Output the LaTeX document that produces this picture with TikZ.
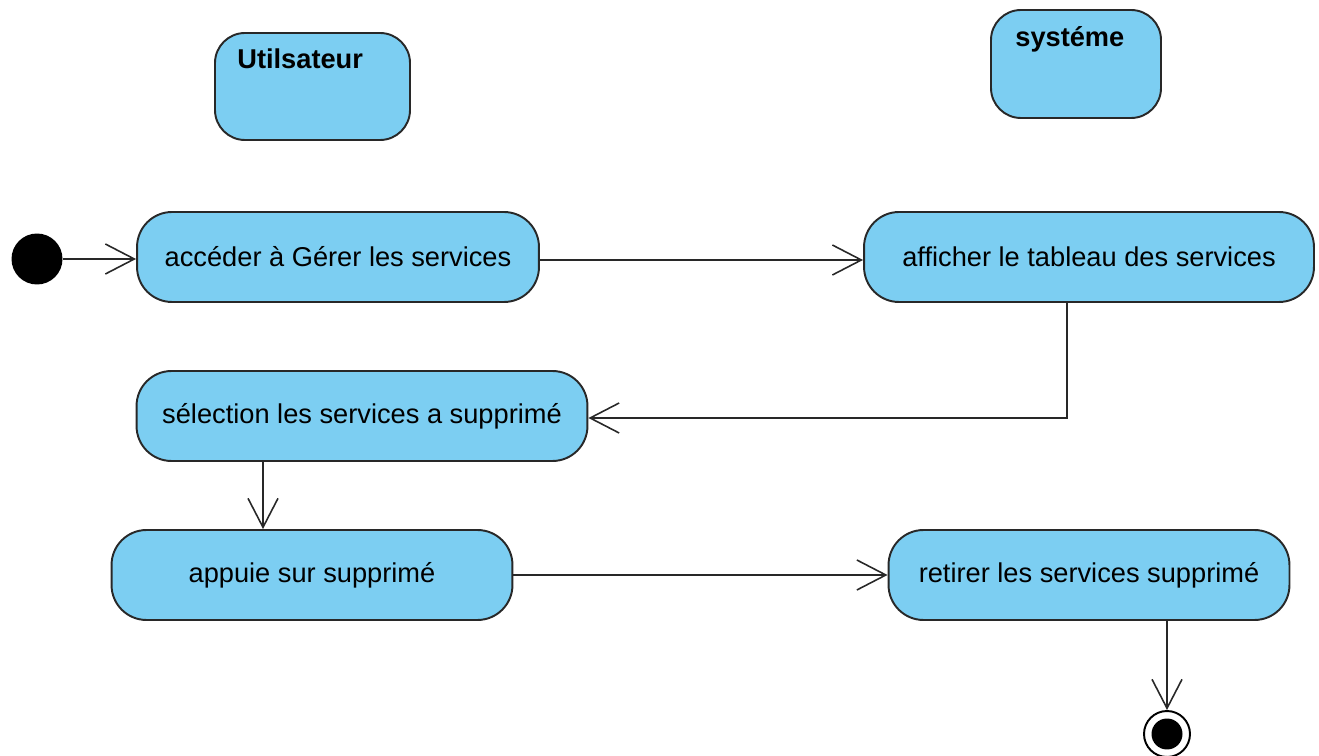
\documentclass[tikz,border=0pt]{standalone}
\usepackage{fontspec}
\setmainfont{Liberation Sans}
\usetikzlibrary{arrows.meta}
\definecolor{actfill}{RGB}{124,206,242}
\definecolor{actline}{RGB}{40,40,40}
\begin{document}
\begin{tikzpicture}[x=0.02cm,y=-0.02cm,
  lane/.style={draw=actline,line width=1.1pt,fill=actfill,rounded corners=0.6cm},
  action/.style={draw=actline,line width=1.1pt,fill=actfill,rounded corners=0.7cm,
    minimum height=1.8cm,inner sep=0pt,font=\fontsize{15.5}{18}\selectfont},
  flow/.style={draw=actline,line width=0.9pt,-{Straight Barb[length=0.58cm,width=0.6cm,line width=0.9pt]}},
  hdr/.style={font=\fontsize{15.5}{18}\selectfont\bfseries,anchor=base west,inner sep=0pt}]
\useasboundingbox (0,0) rectangle (1319,756);
% swimlane headers
\draw[lane] (215,33) rectangle (410,140);
\node[hdr] (user) at (237,69) {Utilsateur};
\draw[lane] (991,10) rectangle (1161,118);
\node[hdr] (sys) at (1015,47) {systéme};
% initial node
\node[circle,fill=black,minimum size=1.02cm,inner sep=0pt] (start) at (37,259) {};
% actions
\node[action,minimum width=8.04cm] (a1) at (338,257) {accéder à Gérer les services};
\node[action,minimum width=9cm] (a2) at (1089,257) {afficher le tableau des services};
\node[action,minimum width=9.02cm] (a3) at (362,416) {sélection les services a supprimé};
\node[action,minimum width=8.02cm] (a4) at (312,575) {appuie sur supprimé};
\node[action,minimum width=8.02cm] (a5) at (1089,575) {retirer les services supprimé};
% final node
\node[circle,draw=black,line width=1.1pt,minimum size=0.92cm,inner sep=0pt] (end) at (1167,734) {};
\node[circle,fill=black,minimum size=0.62cm,inner sep=0pt] (endin) at (end) {};
% control flows
\draw[flow] (start.east) -- (a1.west|-start.east);
\draw[flow] (a1.east|-0,260) -- (a2.west|-0,260);
\draw[flow] (a2.south-|1067,0) |- (a3.east|-0,418);
\draw[flow] (a3.south-|263,0) -- (a4.north-|263,0);
\draw[flow] (a4.east) -- (a5.west);
\draw[flow] (a5.south-|end.north) -- (end.north);
\end{tikzpicture}
\end{document}
